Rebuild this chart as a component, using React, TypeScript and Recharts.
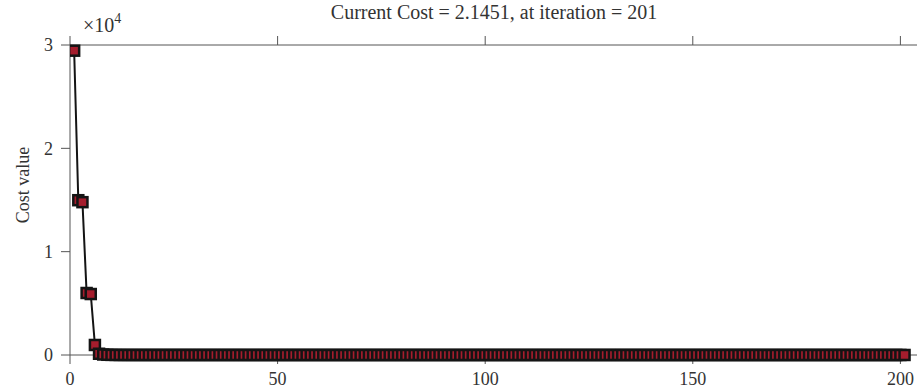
import React from "react";
import { LineChart, Line, XAxis, YAxis } from "recharts";

// cost per iteration (iteration 1..201)
const headCost = [29450, 14980, 14790, 6000, 5900, 970];
const tailCost = [
  120, 48, 22, 12, 7.6, 5.5, 4.3, 3.6, 3.2, 2.95, 2.8, 2.7, 2.62, 2.56, 2.51,
  2.48, 2.45, 2.43, 2.41, 2.39, 2.38, 2.37, 2.36, 2.35, 2.34, 2.33, 2.32, 2.31, 2.305, 2.3,
  2.295, 2.29, 2.285, 2.28, 2.275, 2.27, 2.266, 2.262, 2.258, 2.254, 2.25, 2.247, 2.244, 2.241, 2.238,
  2.235, 2.232, 2.229, 2.226, 2.223, 2.22, 2.218, 2.216, 2.214, 2.212, 2.21, 2.208, 2.206, 2.204, 2.202,
  2.2, 2.198, 2.196, 2.194, 2.192, 2.19, 2.189, 2.188, 2.187, 2.186, 2.185, 2.184, 2.183, 2.182, 2.181,
  2.18, 2.179, 2.178, 2.177, 2.176, 2.175, 2.174, 2.173, 2.172, 2.171, 2.17, 2.169, 2.168, 2.167, 2.166,
  2.165, 2.164, 2.163, 2.162, 2.161, 2.16, 2.1595, 2.159, 2.1585, 2.158, 2.1575, 2.157, 2.1565, 2.156, 2.1555,
  2.155, 2.1546, 2.1542, 2.1538, 2.1534, 2.153, 2.1526, 2.1522, 2.1518, 2.1514, 2.151, 2.1507, 2.1504, 2.1501, 2.1498,
  2.1495, 2.1492, 2.1489, 2.1486, 2.1483, 2.148, 2.1478, 2.1476, 2.1474, 2.1472, 2.147, 2.1468, 2.1466, 2.1464, 2.1462,
  2.146, 2.1459, 2.1458, 2.1457, 2.1456, 2.1455, 2.1455, 2.1454, 2.1454, 2.1453, 2.1453, 2.1453, 2.1452, 2.1452, 2.1452,
  2.1452, 2.1452, 2.1451, 2.1451, 2.1451, 2.1451, 2.1451, 2.1451, 2.1451, 2.1451, 2.1451, 2.1451, 2.1451, 2.1451, 2.1451,
  2.1451, 2.1451, 2.1451, 2.1451, 2.1451, 2.1451, 2.1451, 2.1451, 2.1451, 2.1451, 2.1451, 2.1451, 2.1451, 2.1451, 2.1451,
  2.1451, 2.1451, 2.1451, 2.1451, 2.1451, 2.1451, 2.1451, 2.1451, 2.1451, 2.1451, 2.1451, 2.1451, 2.1451, 2.1451, 2.1451,
];
const costValues = [...headCost, ...tailCost];

const xTicks = [0, 50, 100, 150, 200];
const yTicks = [0, 10000, 20000, 30000];

const titleText = "Current Cost = 2.1451, at iteration = 201";
const yLabel = "Cost value";

const data = costValues.map((v, i) => ({ iter: i + 1, cost: v }));

const FONT = "'Liberation Serif', 'DejaVu Serif', serif";
const TEXT = "#333";
const AXIS = "#555";

const SquareDot = (props: any) => {
  const { cx, cy, index } = props;
  if (cx == null || cy == null) return <g key={index} />;
  return (
    <rect
      key={index}
      x={cx - 5}
      y={cy - 5}
      width={10}
      height={10}
      fill="#a51d2d"
      stroke="#141414"
      strokeWidth={2.5}
    />
  );
};

// top axis shows tick marks only
const NoLabel = () => <g />;

export default function App() {
  const tickStyle = { fontFamily: FONT, fontSize: 18, fill: TEXT };
  return (
    <div style={{ position: "absolute", left: 0, top: 0, width: 917, height: 392, background: "#fff" }}>
      <LineChart width={917} height={392} data={data} margin={{ top: 44, right: 0, bottom: 0, left: 0 }}>
        <XAxis
          dataKey="iter"
          type="number"
          domain={[0, 204]}
          ticks={xTicks}
          allowDataOverflow
          height={37}
          tickSize={9}
          tickMargin={8}
          stroke={AXIS}
          tick={tickStyle}
        />
        <XAxis
          xAxisId="top"
          orientation="top"
          dataKey="iter"
          type="number"
          domain={[0, 204]}
          ticks={xTicks}
          allowDataOverflow
          height={1}
          tickSize={9}
          stroke={AXIS}
          tick={NoLabel}
        />
        <YAxis
          type="number"
          domain={[0, 30000]}
          ticks={yTicks}
          width={70}
          tickSize={9}
          tickMargin={8}
          stroke={AXIS}
          tick={tickStyle}
          tickFormatter={(v: number) => String(v / 10000)}
        />
        {/* invisible series so the top axis gets drawn */}
        <Line
          xAxisId="top"
          dataKey="cost"
          stroke="none"
          dot={false}
          activeDot={false}
          legendType="none"
          isAnimationActive={false}
        />
        <Line
          dataKey="cost"
          stroke="#141414"
          strokeWidth={2}
          dot={<SquareDot />}
          activeDot={false}
          isAnimationActive={false}
        />
      </LineChart>
      <svg
        width={917}
        height={392}
        style={{ position: "absolute", left: 0, top: 0, pointerEvents: "none" }}
      >
        <text x={494} y={19} textAnchor="middle" fontFamily={FONT} fontSize={20} fill={TEXT}>
          {titleText}
        </text>
        <text x={83} y={32} fontFamily={FONT} fontSize={20} fill={TEXT}>
          ×10
          <tspan fontSize={14} dy={-9}>4</tspan>
        </text>
        <text
          x={29}
          y={185}
          textAnchor="middle"
          fontFamily={FONT}
          fontSize={18}
          fill={TEXT}
          transform="rotate(-90, 29, 185)"
        >
          {yLabel}
        </text>
      </svg>
    </div>
  );
}
